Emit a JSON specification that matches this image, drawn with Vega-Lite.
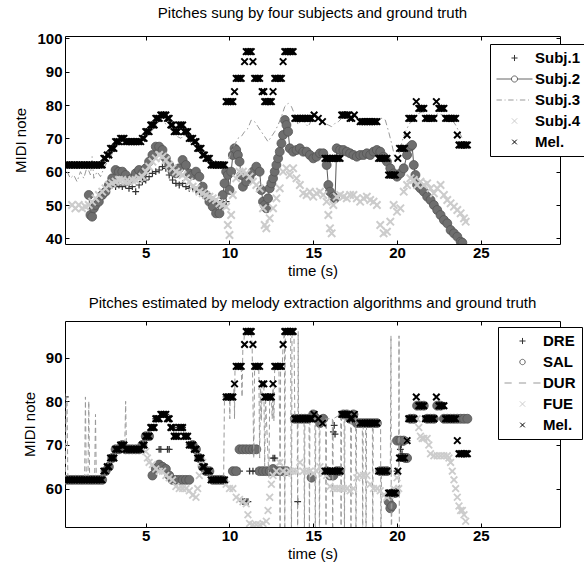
{
"$schema":"https://vega.github.io/schema/vega-lite/v6.json",
"padding":{"left":13,"top":5,"right":1,"bottom":0},
"spacing":16,
"config":{"font":"Liberation Sans","view":{"stroke":"black","strokeWidth":1},
"axis":{"grid":false,"domain":false,"tickColor":"black","tickSize":-4,"labelColor":"black","titleColor":"black","labelFontWeight":"bold","labelFontSize":15,"titleFontWeight":"normal","titleFontSize":15,"labelFlush":false,"labelOverlap":false},
"axisX":{"labelPadding":5,"titlePadding":3},
"axisY":{"labelPadding":7,"titlePadding":8},
"title":{"fontSize":15,"fontWeight":"normal","color":"black","offset":10,"frame":"group","anchor":"middle"}},
"resolve":{"scale":{"color":"independent","shape":"independent"},"legend":{"color":"independent","shape":"independent"}},
"datasets":{
"mel":[
{"s":"Mel.","t":0.2,"v":62},{"s":"Mel.","t":0.3,"v":62},{"s":"Mel.","t":0.4,"v":62},{"s":"Mel.","t":0.5,"v":62},{"s":"Mel.","t":0.6,"v":62},{"s":"Mel.","t":0.7,"v":62},{"s":"Mel.","t":0.8,"v":62},{"s":"Mel.","t":0.9,"v":62},{"s":"Mel.","t":1.0,"v":62},{"s":"Mel.","t":1.1,"v":62},{"s":"Mel.","t":1.2,"v":62},{"s":"Mel.","t":1.3,"v":62},{"s":"Mel.","t":1.4,"v":62},{"s":"Mel.","t":1.5,"v":62},{"s":"Mel.","t":1.6,"v":62},{"s":"Mel.","t":1.7,"v":62},{"s":"Mel.","t":1.8,"v":62},{"s":"Mel.","t":1.9,"v":62},{"s":"Mel.","t":2.0,"v":62},{"s":"Mel.","t":2.1,"v":62},{"s":"Mel.","t":2.2,"v":62},{"s":"Mel.","t":2.3,"v":62},{"s":"Mel.","t":2.4,"v":62},
{"s":"Mel.","t":2.5,"v":64},{"s":"Mel.","t":2.6,"v":64},{"s":"Mel.","t":2.7,"v":65},{"s":"Mel.","t":2.8,"v":65},{"s":"Mel.","t":2.9,"v":67},{"s":"Mel.","t":3.0,"v":67},{"s":"Mel.","t":3.1,"v":67},{"s":"Mel.","t":3.2,"v":69},{"s":"Mel.","t":3.3,"v":69},{"s":"Mel.","t":3.4,"v":69},{"s":"Mel.","t":3.5,"v":70},{"s":"Mel.","t":3.6,"v":70},{"s":"Mel.","t":3.7,"v":70},
{"s":"Mel.","t":3.8,"v":69},{"s":"Mel.","t":3.9,"v":69},{"s":"Mel.","t":4.0,"v":69},{"s":"Mel.","t":4.1,"v":69},{"s":"Mel.","t":4.2,"v":69},{"s":"Mel.","t":4.3,"v":69},{"s":"Mel.","t":4.4,"v":69},{"s":"Mel.","t":4.5,"v":69},{"s":"Mel.","t":4.6,"v":69},{"s":"Mel.","t":4.7,"v":69},
{"s":"Mel.","t":4.8,"v":70},{"s":"Mel.","t":4.9,"v":70},{"s":"Mel.","t":5.0,"v":72},{"s":"Mel.","t":5.1,"v":72},{"s":"Mel.","t":5.2,"v":72},{"s":"Mel.","t":5.3,"v":74},{"s":"Mel.","t":5.4,"v":74},{"s":"Mel.","t":5.5,"v":74},{"s":"Mel.","t":5.6,"v":76},{"s":"Mel.","t":5.7,"v":76},{"s":"Mel.","t":5.8,"v":76},{"s":"Mel.","t":5.9,"v":77},{"s":"Mel.","t":6.0,"v":77},{"s":"Mel.","t":6.1,"v":77},{"s":"Mel.","t":6.2,"v":77},
{"s":"Mel.","t":6.3,"v":76},{"s":"Mel.","t":6.4,"v":76},{"s":"Mel.","t":6.5,"v":74},{"s":"Mel.","t":6.6,"v":74},{"s":"Mel.","t":6.7,"v":72},{"s":"Mel.","t":6.8,"v":72},{"s":"Mel.","t":6.9,"v":72},{"s":"Mel.","t":7.0,"v":74},{"s":"Mel.","t":7.1,"v":74},{"s":"Mel.","t":7.2,"v":74},{"s":"Mel.","t":7.3,"v":72},{"s":"Mel.","t":7.4,"v":72},{"s":"Mel.","t":7.5,"v":72},
{"s":"Mel.","t":7.6,"v":70},{"s":"Mel.","t":7.7,"v":70},{"s":"Mel.","t":7.8,"v":70},{"s":"Mel.","t":7.9,"v":69},{"s":"Mel.","t":8.0,"v":69},{"s":"Mel.","t":8.1,"v":67},{"s":"Mel.","t":8.2,"v":67},{"s":"Mel.","t":8.3,"v":67},{"s":"Mel.","t":8.4,"v":65},{"s":"Mel.","t":8.5,"v":65},{"s":"Mel.","t":8.6,"v":64},{"s":"Mel.","t":8.7,"v":64},{"s":"Mel.","t":8.8,"v":64},
{"s":"Mel.","t":8.9,"v":62},{"s":"Mel.","t":9.0,"v":62},{"s":"Mel.","t":9.1,"v":62},{"s":"Mel.","t":9.2,"v":62},{"s":"Mel.","t":9.3,"v":62},{"s":"Mel.","t":9.4,"v":62},{"s":"Mel.","t":9.5,"v":62},{"s":"Mel.","t":9.6,"v":62},{"s":"Mel.","t":9.7,"v":62},
{"s":"Mel.","t":9.8,"v":81},{"s":"Mel.","t":9.9,"v":81},{"s":"Mel.","t":10.0,"v":81},{"s":"Mel.","t":10.1,"v":81},{"s":"Mel.","t":10.2,"v":81},{"s":"Mel.","t":10.3,"v":84},{"s":"Mel.","t":10.4,"v":88},{"s":"Mel.","t":10.5,"v":88},{"s":"Mel.","t":10.6,"v":88},{"s":"Mel.","t":10.7,"v":88},{"s":"Mel.","t":10.9,"v":93},{"s":"Mel.","t":11.0,"v":96},{"s":"Mel.","t":11.1,"v":96},{"s":"Mel.","t":11.2,"v":96},{"s":"Mel.","t":11.3,"v":96},{"s":"Mel.","t":11.4,"v":93},
{"s":"Mel.","t":11.5,"v":88},{"s":"Mel.","t":11.6,"v":88},{"s":"Mel.","t":11.7,"v":88},{"s":"Mel.","t":11.8,"v":88},{"s":"Mel.","t":11.95,"v":84},{"s":"Mel.","t":12.05,"v":84},{"s":"Mel.","t":12.1,"v":81},{"s":"Mel.","t":12.2,"v":81},{"s":"Mel.","t":12.3,"v":81},{"s":"Mel.","t":12.4,"v":81},{"s":"Mel.","t":12.5,"v":81},{"s":"Mel.","t":12.6,"v":84},
{"s":"Mel.","t":12.7,"v":88},{"s":"Mel.","t":12.8,"v":88},{"s":"Mel.","t":12.9,"v":88},{"s":"Mel.","t":13.0,"v":88},{"s":"Mel.","t":13.1,"v":88},{"s":"Mel.","t":13.2,"v":93},{"s":"Mel.","t":13.3,"v":96},{"s":"Mel.","t":13.4,"v":96},{"s":"Mel.","t":13.5,"v":96},{"s":"Mel.","t":13.6,"v":96},{"s":"Mel.","t":13.7,"v":96},{"s":"Mel.","t":13.8,"v":96},
{"s":"Mel.","t":13.9,"v":76},{"s":"Mel.","t":14.0,"v":76},{"s":"Mel.","t":14.1,"v":76},{"s":"Mel.","t":14.2,"v":76},{"s":"Mel.","t":14.3,"v":76},{"s":"Mel.","t":14.4,"v":76},{"s":"Mel.","t":14.5,"v":76},{"s":"Mel.","t":14.6,"v":76},{"s":"Mel.","t":14.7,"v":76},{"s":"Mel.","t":14.8,"v":76},{"s":"Mel.","t":14.9,"v":76},
{"s":"Mel.","t":15.05,"v":77},{"s":"Mel.","t":15.3,"v":76},{"s":"Mel.","t":15.55,"v":75},
{"s":"Mel.","t":15.7,"v":64},{"s":"Mel.","t":15.8,"v":64},{"s":"Mel.","t":15.9,"v":64},{"s":"Mel.","t":16.0,"v":64},{"s":"Mel.","t":16.1,"v":64},{"s":"Mel.","t":16.2,"v":64},{"s":"Mel.","t":16.3,"v":64},{"s":"Mel.","t":16.4,"v":64},{"s":"Mel.","t":16.5,"v":64},{"s":"Mel.","t":16.6,"v":64},
{"s":"Mel.","t":16.7,"v":77},{"s":"Mel.","t":16.8,"v":77},{"s":"Mel.","t":16.9,"v":77},{"s":"Mel.","t":17.0,"v":77},{"s":"Mel.","t":17.1,"v":77},{"s":"Mel.","t":17.2,"v":76},{"s":"Mel.","t":17.3,"v":76},{"s":"Mel.","t":17.45,"v":77},
{"s":"Mel.","t":17.8,"v":75},{"s":"Mel.","t":17.9,"v":75},{"s":"Mel.","t":18.0,"v":75},{"s":"Mel.","t":18.1,"v":75},{"s":"Mel.","t":18.2,"v":75},{"s":"Mel.","t":18.3,"v":75},{"s":"Mel.","t":18.4,"v":75},{"s":"Mel.","t":18.5,"v":75},{"s":"Mel.","t":18.6,"v":75},{"s":"Mel.","t":18.7,"v":75},{"s":"Mel.","t":18.8,"v":75},
{"s":"Mel.","t":18.9,"v":64},{"s":"Mel.","t":19.0,"v":64},{"s":"Mel.","t":19.1,"v":64},{"s":"Mel.","t":19.2,"v":64},{"s":"Mel.","t":19.3,"v":64},{"s":"Mel.","t":19.4,"v":64},
{"s":"Mel.","t":19.5,"v":59},{"s":"Mel.","t":19.6,"v":59},{"s":"Mel.","t":19.7,"v":59},{"s":"Mel.","t":19.8,"v":59},{"s":"Mel.","t":19.9,"v":59},{"s":"Mel.","t":20.05,"v":64},
{"s":"Mel.","t":20.15,"v":67},{"s":"Mel.","t":20.25,"v":67},{"s":"Mel.","t":20.35,"v":67},{"s":"Mel.","t":20.45,"v":67},{"s":"Mel.","t":20.6,"v":71},
{"s":"Mel.","t":20.7,"v":76},{"s":"Mel.","t":20.8,"v":76},{"s":"Mel.","t":20.9,"v":76},{"s":"Mel.","t":21.0,"v":76},{"s":"Mel.","t":21.15,"v":81},
{"s":"Mel.","t":21.3,"v":79},{"s":"Mel.","t":21.4,"v":79},{"s":"Mel.","t":21.5,"v":79},{"s":"Mel.","t":21.6,"v":79},
{"s":"Mel.","t":21.7,"v":76},{"s":"Mel.","t":21.8,"v":76},{"s":"Mel.","t":21.9,"v":76},{"s":"Mel.","t":22.0,"v":76},{"s":"Mel.","t":22.1,"v":76},{"s":"Mel.","t":22.2,"v":76},{"s":"Mel.","t":22.35,"v":81},
{"s":"Mel.","t":22.5,"v":79},{"s":"Mel.","t":22.6,"v":79},{"s":"Mel.","t":22.7,"v":79},{"s":"Mel.","t":22.8,"v":79},
{"s":"Mel.","t":22.9,"v":76},{"s":"Mel.","t":23.0,"v":76},{"s":"Mel.","t":23.1,"v":76},{"s":"Mel.","t":23.2,"v":76},{"s":"Mel.","t":23.3,"v":76},{"s":"Mel.","t":23.4,"v":76},{"s":"Mel.","t":23.5,"v":76},{"s":"Mel.","t":23.6,"v":71},
{"s":"Mel.","t":23.7,"v":68},{"s":"Mel.","t":23.8,"v":68},{"s":"Mel.","t":23.9,"v":68},{"s":"Mel.","t":24.0,"v":68},{"s":"Mel.","t":24.1,"v":68},{"s":"Mel.","t":24.2,"v":68}
],
"top":[
{"s":"Subj.1","t":1.8,"v":49},{"s":"Subj.1","t":2.0,"v":50},{"s":"Subj.1","t":2.2,"v":51},{"s":"Subj.1","t":2.4,"v":53},{"s":"Subj.1","t":2.6,"v":54.5},{"s":"Subj.1","t":2.8,"v":55.5},{"s":"Subj.1","t":3.0,"v":56},{"s":"Subj.1","t":3.2,"v":55.5},{"s":"Subj.1","t":3.4,"v":56},{"s":"Subj.1","t":3.6,"v":55.5},{"s":"Subj.1","t":3.8,"v":56},{"s":"Subj.1","t":4.0,"v":55},{"s":"Subj.1","t":4.2,"v":55.5},{"s":"Subj.1","t":4.4,"v":54},{"s":"Subj.1","t":4.6,"v":56},{"s":"Subj.1","t":4.8,"v":57},{"s":"Subj.1","t":5.0,"v":57.5},{"s":"Subj.1","t":5.2,"v":58.5},{"s":"Subj.1","t":5.4,"v":59.5},{"s":"Subj.1","t":5.6,"v":60},{"s":"Subj.1","t":5.8,"v":60.5},{"s":"Subj.1","t":6.0,"v":61.5},{"s":"Subj.1","t":6.2,"v":61},{"s":"Subj.1","t":6.4,"v":59},{"s":"Subj.1","t":6.6,"v":57.5},{"s":"Subj.1","t":6.8,"v":56.5},{"s":"Subj.1","t":7.0,"v":56},{"s":"Subj.1","t":7.2,"v":56.5},{"s":"Subj.1","t":7.4,"v":55.5},{"s":"Subj.1","t":7.6,"v":55},{"s":"Subj.1","t":7.8,"v":55},{"s":"Subj.1","t":8.0,"v":54.5},{"s":"Subj.1","t":8.2,"v":54},{"s":"Subj.1","t":8.4,"v":53},{"s":"Subj.1","t":8.6,"v":52.5},{"s":"Subj.1","t":8.8,"v":52},{"s":"Subj.1","t":9.0,"v":51.5},{"s":"Subj.1","t":9.2,"v":51},{"s":"Subj.1","t":9.4,"v":50.5},{"s":"Subj.1","t":9.6,"v":50.5},{"s":"Subj.1","t":9.8,"v":51},
{"s":"Subj.2","t":1.6,"v":53},{"s":"Subj.2","t":1.7,"v":47},{"s":"Subj.2","t":1.8,"v":46.5},{"s":"Subj.2","t":1.9,"v":49},{"s":"Subj.2","t":2.0,"v":50},{"s":"Subj.2","t":2.2,"v":51},{"s":"Subj.2","t":2.4,"v":53},{"s":"Subj.2","t":2.6,"v":54},{"s":"Subj.2","t":2.8,"v":56},{"s":"Subj.2","t":3.0,"v":58},{"s":"Subj.2","t":3.2,"v":60.5},{"s":"Subj.2","t":3.4,"v":60},{"s":"Subj.2","t":3.6,"v":60},{"s":"Subj.2","t":3.8,"v":59},{"s":"Subj.2","t":4.0,"v":57.5},{"s":"Subj.2","t":4.2,"v":58},{"s":"Subj.2","t":4.4,"v":59.5},{"s":"Subj.2","t":4.6,"v":60.5},{"s":"Subj.2","t":4.8,"v":59.5},{"s":"Subj.2","t":5.0,"v":61},{"s":"Subj.2","t":5.2,"v":63},{"s":"Subj.2","t":5.4,"v":65},{"s":"Subj.2","t":5.6,"v":67.5},{"s":"Subj.2","t":5.8,"v":67.5},{"s":"Subj.2","t":6.0,"v":66.5},{"s":"Subj.2","t":6.2,"v":64},{"s":"Subj.2","t":6.4,"v":62},{"s":"Subj.2","t":6.6,"v":60},{"s":"Subj.2","t":6.8,"v":59.5},{"s":"Subj.2","t":7.0,"v":61},{"s":"Subj.2","t":7.2,"v":63.5},{"s":"Subj.2","t":7.4,"v":62},{"s":"Subj.2","t":7.6,"v":59.5},{"s":"Subj.2","t":7.8,"v":59},{"s":"Subj.2","t":8.0,"v":60},{"s":"Subj.2","t":8.2,"v":58.5},{"s":"Subj.2","t":8.4,"v":55.5},{"s":"Subj.2","t":8.6,"v":53},{"s":"Subj.2","t":8.8,"v":51},{"s":"Subj.2","t":9.0,"v":49.5},{"s":"Subj.2","t":9.2,"v":47.5},{"s":"Subj.2","t":9.4,"v":47.5},{"s":"Subj.2","t":9.5,"v":50},{"s":"Subj.2","t":9.6,"v":53},{"s":"Subj.2","t":9.7,"v":56.5},{"s":"Subj.2","t":9.8,"v":60},{"s":"Subj.2","t":9.9,"v":59},{"s":"Subj.2","t":10.0,"v":54.5},{"s":"Subj.2","t":10.1,"v":60},{"s":"Subj.2","t":10.2,"v":65},{"s":"Subj.2","t":10.3,"v":67},{"s":"Subj.2","t":10.4,"v":66.5},{"s":"Subj.2","t":10.5,"v":65},{"s":"Subj.2","t":10.6,"v":63},{"s":"Subj.2","t":10.7,"v":59},{"s":"Subj.2","t":10.8,"v":55.5},{"s":"Subj.2","t":11.0,"v":57},{"s":"Subj.2","t":11.2,"v":58.5},{"s":"Subj.2","t":11.4,"v":60},{"s":"Subj.2","t":11.6,"v":61.5},{"s":"Subj.2","t":11.8,"v":60},{"s":"Subj.2","t":11.9,"v":54.5},{"s":"Subj.2","t":12.0,"v":51},{"s":"Subj.2","t":12.1,"v":50},{"s":"Subj.2","t":12.2,"v":49},{"s":"Subj.2","t":12.3,"v":52},{"s":"Subj.2","t":12.4,"v":55},{"s":"Subj.2","t":12.5,"v":56.5},{"s":"Subj.2","t":12.6,"v":58},{"s":"Subj.2","t":12.7,"v":60},{"s":"Subj.2","t":12.8,"v":62},{"s":"Subj.2","t":12.9,"v":64},{"s":"Subj.2","t":13.0,"v":66},{"s":"Subj.2","t":13.1,"v":68.5},{"s":"Subj.2","t":13.2,"v":71},{"s":"Subj.2","t":13.3,"v":75.5},{"s":"Subj.2","t":13.4,"v":74},{"s":"Subj.2","t":13.5,"v":72},{"s":"Subj.2","t":13.6,"v":67},{"s":"Subj.2","t":13.8,"v":66},{"s":"Subj.2","t":14.0,"v":66.5},{"s":"Subj.2","t":14.2,"v":67},{"s":"Subj.2","t":14.4,"v":66},{"s":"Subj.2","t":14.6,"v":66},{"s":"Subj.2","t":14.8,"v":65},{"s":"Subj.2","t":15.0,"v":64},{"s":"Subj.2","t":15.2,"v":64.5},{"s":"Subj.2","t":15.4,"v":65.5},{"s":"Subj.2","t":15.6,"v":65.5},{"s":"Subj.2","t":15.8,"v":62},{"s":"Subj.2","t":15.9,"v":56},{"s":"Subj.2","t":16.0,"v":54},{"s":"Subj.2","t":16.2,"v":52.5},{"s":"Subj.2","t":16.3,"v":52},{"s":"Subj.2","t":16.4,"v":67},{"s":"Subj.2","t":16.6,"v":66.5},{"s":"Subj.2","t":16.8,"v":66.5},{"s":"Subj.2","t":17.0,"v":66},{"s":"Subj.2","t":17.2,"v":65.5},{"s":"Subj.2","t":17.4,"v":65},{"s":"Subj.2","t":17.6,"v":64.5},{"s":"Subj.2","t":17.8,"v":65},{"s":"Subj.2","t":18.0,"v":65},{"s":"Subj.2","t":18.2,"v":65.5},{"s":"Subj.2","t":18.4,"v":65},{"s":"Subj.2","t":18.6,"v":66},{"s":"Subj.2","t":18.8,"v":66.5},{"s":"Subj.2","t":19.0,"v":66},{"s":"Subj.2","t":19.2,"v":64.5},{"s":"Subj.2","t":19.4,"v":63},{"s":"Subj.2","t":19.6,"v":61},{"s":"Subj.2","t":19.8,"v":59.5},{"s":"Subj.2","t":20.0,"v":58.5},{"s":"Subj.2","t":20.2,"v":59.5},{"s":"Subj.2","t":20.4,"v":61},{"s":"Subj.2","t":20.6,"v":65},{"s":"Subj.2","t":20.8,"v":67.5},{"s":"Subj.2","t":20.9,"v":68},{"s":"Subj.2","t":21.0,"v":62},{"s":"Subj.2","t":21.1,"v":59},{"s":"Subj.2","t":21.2,"v":56},{"s":"Subj.2","t":21.4,"v":55},{"s":"Subj.2","t":21.6,"v":54},{"s":"Subj.2","t":21.8,"v":52.5},{"s":"Subj.2","t":22.0,"v":51.5},{"s":"Subj.2","t":22.2,"v":50},{"s":"Subj.2","t":22.4,"v":48.5},{"s":"Subj.2","t":22.6,"v":47},{"s":"Subj.2","t":22.8,"v":45.5},{"s":"Subj.2","t":23.0,"v":44.5},{"s":"Subj.2","t":23.2,"v":42.5},{"s":"Subj.2","t":23.4,"v":41.5},{"s":"Subj.2","t":23.6,"v":40.5},{"s":"Subj.2","t":23.8,"v":39},{"s":"Subj.2","t":23.9,"v":38.7},
{"s":"Subj.3","t":0.3,"v":60},{"s":"Subj.3","t":0.5,"v":58},{"s":"Subj.3","t":0.7,"v":59},{"s":"Subj.3","t":0.9,"v":57},{"s":"Subj.3","t":1.1,"v":60},{"s":"Subj.3","t":1.3,"v":58},{"s":"Subj.3","t":1.5,"v":61.5},{"s":"Subj.3","t":1.7,"v":59},{"s":"Subj.3","t":1.8,"v":64.5},{"s":"Subj.3","t":1.9,"v":58},{"s":"Subj.3","t":2.1,"v":60},{"s":"Subj.3","t":2.3,"v":58.5},{"s":"Subj.3","t":2.5,"v":61},{"s":"Subj.3","t":2.7,"v":63},{"s":"Subj.3","t":2.9,"v":64},{"s":"Subj.3","t":3.1,"v":67},{"s":"Subj.3","t":3.3,"v":68.5},{"s":"Subj.3","t":3.5,"v":69.5},{"s":"Subj.3","t":3.7,"v":69},{"s":"Subj.3","t":3.9,"v":68.5},{"s":"Subj.3","t":4.1,"v":69},{"s":"Subj.3","t":4.3,"v":68.5},{"s":"Subj.3","t":4.5,"v":69},{"s":"Subj.3","t":4.7,"v":69.5},{"s":"Subj.3","t":4.9,"v":70},{"s":"Subj.3","t":5.1,"v":71},{"s":"Subj.3","t":5.3,"v":72},{"s":"Subj.3","t":5.5,"v":73},{"s":"Subj.3","t":5.7,"v":74.5},{"s":"Subj.3","t":5.9,"v":75.5},{"s":"Subj.3","t":6.1,"v":75},{"s":"Subj.3","t":6.3,"v":73.5},{"s":"Subj.3","t":6.5,"v":72.5},{"s":"Subj.3","t":6.7,"v":71.5},{"s":"Subj.3","t":6.9,"v":70.5},{"s":"Subj.3","t":7.1,"v":70},{"s":"Subj.3","t":7.3,"v":71},{"s":"Subj.3","t":7.5,"v":70},{"s":"Subj.3","t":7.7,"v":68.5},{"s":"Subj.3","t":7.9,"v":68},{"s":"Subj.3","t":8.1,"v":67.5},{"s":"Subj.3","t":8.3,"v":67},{"s":"Subj.3","t":8.5,"v":66},{"s":"Subj.3","t":8.7,"v":65},{"s":"Subj.3","t":8.9,"v":64},{"s":"Subj.3","t":9.1,"v":63.5},{"s":"Subj.3","t":9.3,"v":63},{"s":"Subj.3","t":9.5,"v":62.5},{"s":"Subj.3","t":9.7,"v":62},{"s":"Subj.3","t":9.9,"v":63},{"s":"Subj.3","t":10.1,"v":66},{"s":"Subj.3","t":10.3,"v":68},{"s":"Subj.3","t":10.5,"v":70},{"s":"Subj.3","t":10.7,"v":70.5},{"s":"Subj.3","t":10.9,"v":72},{"s":"Subj.3","t":11.1,"v":73},{"s":"Subj.3","t":11.3,"v":75.5},{"s":"Subj.3","t":11.5,"v":75},{"s":"Subj.3","t":11.7,"v":73.5},{"s":"Subj.3","t":11.9,"v":72},{"s":"Subj.3","t":12.1,"v":70.5},{"s":"Subj.3","t":12.3,"v":69},{"s":"Subj.3","t":12.5,"v":70.5},{"s":"Subj.3","t":12.7,"v":72},{"s":"Subj.3","t":12.9,"v":74},{"s":"Subj.3","t":13.1,"v":76.5},{"s":"Subj.3","t":13.3,"v":79.5},{"s":"Subj.3","t":13.5,"v":80.5},{"s":"Subj.3","t":13.7,"v":79.5},{"s":"Subj.3","t":13.9,"v":77},{"s":"Subj.3","t":14.1,"v":74},{"s":"Subj.3","t":14.3,"v":76},{"s":"Subj.3","t":14.5,"v":74.5},{"s":"Subj.3","t":14.7,"v":73.5},{"s":"Subj.3","t":14.9,"v":75.5},{"s":"Subj.3","t":15.1,"v":77},{"s":"Subj.3","t":15.3,"v":76.5},{"s":"Subj.3","t":15.5,"v":75},{"s":"Subj.3","t":15.7,"v":74.5},{"s":"Subj.3","t":15.9,"v":74},{"s":"Subj.3","t":16.1,"v":73.5},{"s":"Subj.3","t":16.3,"v":74.5},{"s":"Subj.3","t":16.5,"v":75},{"s":"Subj.3","t":16.7,"v":76},{"s":"Subj.3","t":16.9,"v":76.5},{"s":"Subj.3","t":17.1,"v":76},{"s":"Subj.3","t":17.3,"v":75.5},{"s":"Subj.3","t":17.5,"v":75},{"s":"Subj.3","t":17.7,"v":74.5},{"s":"Subj.3","t":17.9,"v":74},{"s":"Subj.3","t":18.1,"v":74.5},{"s":"Subj.3","t":18.3,"v":75},{"s":"Subj.3","t":18.5,"v":74.5},{"s":"Subj.3","t":18.7,"v":75.5},{"s":"Subj.3","t":18.9,"v":76},{"s":"Subj.3","t":19.1,"v":76},{"s":"Subj.3","t":19.3,"v":75.5},{"s":"Subj.3","t":19.5,"v":72},{"s":"Subj.3","t":19.7,"v":68},{"s":"Subj.3","t":19.9,"v":63.5},{"s":"Subj.3","t":20.1,"v":65},{"s":"Subj.3","t":20.3,"v":69},{"s":"Subj.3","t":20.5,"v":72},{"s":"Subj.3","t":20.7,"v":74},{"s":"Subj.3","t":20.9,"v":75.5},{"s":"Subj.3","t":21.1,"v":76.5},{"s":"Subj.3","t":21.3,"v":77.5},{"s":"Subj.3","t":21.5,"v":78},{"s":"Subj.3","t":21.7,"v":77.5},{"s":"Subj.3","t":21.9,"v":76.5},{"s":"Subj.3","t":22.1,"v":76},{"s":"Subj.3","t":22.3,"v":77},{"s":"Subj.3","t":22.5,"v":77.5},{"s":"Subj.3","t":22.7,"v":77},{"s":"Subj.3","t":22.9,"v":76.5},{"s":"Subj.3","t":23.1,"v":76},{"s":"Subj.3","t":23.3,"v":75.5},{"s":"Subj.3","t":23.5,"v":74},{"s":"Subj.3","t":23.7,"v":72},{"s":"Subj.3","t":23.9,"v":70},
{"s":"Subj.4","t":0.6,"v":50},{"s":"Subj.4","t":0.8,"v":49},{"s":"Subj.4","t":1.0,"v":50},{"s":"Subj.4","t":1.2,"v":49},{"s":"Subj.4","t":1.4,"v":49.5},{"s":"Subj.4","t":1.6,"v":50},{"s":"Subj.4","t":1.8,"v":51},{"s":"Subj.4","t":2.0,"v":52},{"s":"Subj.4","t":2.2,"v":53},{"s":"Subj.4","t":2.4,"v":54},{"s":"Subj.4","t":2.6,"v":55},{"s":"Subj.4","t":2.8,"v":56},{"s":"Subj.4","t":3.0,"v":56.5},{"s":"Subj.4","t":3.2,"v":57},{"s":"Subj.4","t":3.4,"v":57.5},{"s":"Subj.4","t":3.6,"v":57.5},{"s":"Subj.4","t":3.8,"v":57},{"s":"Subj.4","t":4.0,"v":57},{"s":"Subj.4","t":4.2,"v":57.5},{"s":"Subj.4","t":4.4,"v":57.5},{"s":"Subj.4","t":4.6,"v":58},{"s":"Subj.4","t":4.8,"v":58.5},{"s":"Subj.4","t":5.0,"v":60},{"s":"Subj.4","t":5.2,"v":61.5},{"s":"Subj.4","t":5.4,"v":63},{"s":"Subj.4","t":5.6,"v":64},{"s":"Subj.4","t":5.8,"v":65},{"s":"Subj.4","t":6.0,"v":64.5},{"s":"Subj.4","t":6.2,"v":63.5},{"s":"Subj.4","t":6.4,"v":62},{"s":"Subj.4","t":6.6,"v":61},{"s":"Subj.4","t":6.8,"v":60},{"s":"Subj.4","t":7.0,"v":59.5},{"s":"Subj.4","t":7.2,"v":59},{"s":"Subj.4","t":7.4,"v":58},{"s":"Subj.4","t":7.6,"v":57},{"s":"Subj.4","t":7.8,"v":55.5},{"s":"Subj.4","t":8.0,"v":55},{"s":"Subj.4","t":8.2,"v":54},{"s":"Subj.4","t":8.4,"v":53.5},{"s":"Subj.4","t":8.6,"v":53},{"s":"Subj.4","t":8.8,"v":52.5},{"s":"Subj.4","t":9.0,"v":52},{"s":"Subj.4","t":9.2,"v":51.5},{"s":"Subj.4","t":9.4,"v":50.5},{"s":"Subj.4","t":9.6,"v":50},{"s":"Subj.4","t":9.8,"v":49.5},{"s":"Subj.4","t":9.9,"v":44},{"s":"Subj.4","t":10.0,"v":41},{"s":"Subj.4","t":10.1,"v":47},{"s":"Subj.4","t":10.2,"v":53},{"s":"Subj.4","t":10.4,"v":58},{"s":"Subj.4","t":10.6,"v":60},{"s":"Subj.4","t":10.8,"v":60},{"s":"Subj.4","t":11.0,"v":59.5},{"s":"Subj.4","t":11.2,"v":58.5},{"s":"Subj.4","t":11.4,"v":57},{"s":"Subj.4","t":11.6,"v":56},{"s":"Subj.4","t":11.8,"v":55},{"s":"Subj.4","t":12.0,"v":49},{"s":"Subj.4","t":12.1,"v":44},{"s":"Subj.4","t":12.2,"v":43},{"s":"Subj.4","t":12.4,"v":46},{"s":"Subj.4","t":12.6,"v":49},{"s":"Subj.4","t":12.8,"v":52},{"s":"Subj.4","t":13.0,"v":55},{"s":"Subj.4","t":13.2,"v":60},{"s":"Subj.4","t":13.4,"v":61},{"s":"Subj.4","t":13.6,"v":59},{"s":"Subj.4","t":13.8,"v":61},{"s":"Subj.4","t":14.0,"v":58},{"s":"Subj.4","t":14.2,"v":56},{"s":"Subj.4","t":14.4,"v":53.5},{"s":"Subj.4","t":14.6,"v":53},{"s":"Subj.4","t":14.8,"v":54},{"s":"Subj.4","t":15.0,"v":52.5},{"s":"Subj.4","t":15.2,"v":53.5},{"s":"Subj.4","t":15.4,"v":54},{"s":"Subj.4","t":15.6,"v":53},{"s":"Subj.4","t":15.8,"v":51},{"s":"Subj.4","t":15.9,"v":47},{"s":"Subj.4","t":16.0,"v":43},{"s":"Subj.4","t":16.1,"v":41.5},{"s":"Subj.4","t":16.2,"v":50},{"s":"Subj.4","t":16.4,"v":52.5},{"s":"Subj.4","t":16.6,"v":53},{"s":"Subj.4","t":16.8,"v":52.5},{"s":"Subj.4","t":17.0,"v":52},{"s":"Subj.4","t":17.2,"v":53},{"s":"Subj.4","t":17.4,"v":53},{"s":"Subj.4","t":17.6,"v":52},{"s":"Subj.4","t":17.8,"v":51},{"s":"Subj.4","t":18.0,"v":52},{"s":"Subj.4","t":18.2,"v":52.5},{"s":"Subj.4","t":18.4,"v":51.5},{"s":"Subj.4","t":18.6,"v":51},{"s":"Subj.4","t":18.8,"v":50},{"s":"Subj.4","t":19.0,"v":44},{"s":"Subj.4","t":19.2,"v":41.5},{"s":"Subj.4","t":19.4,"v":42},{"s":"Subj.4","t":19.6,"v":45},{"s":"Subj.4","t":19.8,"v":50},{"s":"Subj.4","t":20.0,"v":48},{"s":"Subj.4","t":20.2,"v":49},{"s":"Subj.4","t":20.4,"v":54},{"s":"Subj.4","t":20.6,"v":56},{"s":"Subj.4","t":20.8,"v":58},{"s":"Subj.4","t":21.0,"v":57.5},{"s":"Subj.4","t":21.2,"v":56},{"s":"Subj.4","t":21.4,"v":57},{"s":"Subj.4","t":21.6,"v":56},{"s":"Subj.4","t":21.8,"v":56.5},{"s":"Subj.4","t":22.0,"v":55},{"s":"Subj.4","t":22.2,"v":53.5},{"s":"Subj.4","t":22.4,"v":55},{"s":"Subj.4","t":22.6,"v":56},{"s":"Subj.4","t":22.8,"v":53},{"s":"Subj.4","t":23.0,"v":51.5},{"s":"Subj.4","t":23.2,"v":50.5},{"s":"Subj.4","t":23.4,"v":49.5},{"s":"Subj.4","t":23.6,"v":48.5},{"s":"Subj.4","t":23.8,"v":47.5},{"s":"Subj.4","t":24.0,"v":46},{"s":"Subj.4","t":24.1,"v":45}
],
"bot":[
{"s":"DRE","t":0.2,"v":81},{"s":"DRE","t":0.4,"v":62},{"s":"DRE","t":0.6,"v":62},{"s":"DRE","t":0.8,"v":62},{"s":"DRE","t":1.0,"v":62},{"s":"DRE","t":1.2,"v":62},{"s":"DRE","t":1.4,"v":62},{"s":"DRE","t":1.6,"v":62},{"s":"DRE","t":1.8,"v":62},{"s":"DRE","t":2.0,"v":62},{"s":"DRE","t":2.2,"v":62},{"s":"DRE","t":2.4,"v":62},{"s":"DRE","t":2.6,"v":64},{"s":"DRE","t":2.8,"v":65},{"s":"DRE","t":3.0,"v":67},{"s":"DRE","t":3.2,"v":69},{"s":"DRE","t":3.4,"v":69},{"s":"DRE","t":3.6,"v":70},{"s":"DRE","t":3.8,"v":69},{"s":"DRE","t":4.0,"v":69},{"s":"DRE","t":4.2,"v":69},{"s":"DRE","t":4.4,"v":69},{"s":"DRE","t":4.6,"v":69},{"s":"DRE","t":4.8,"v":70},{"s":"DRE","t":5.0,"v":72},{"s":"DRE","t":5.2,"v":72},{"s":"DRE","t":5.4,"v":74},{"s":"DRE","t":5.6,"v":76},{"s":"DRE","t":5.8,"v":69},{"s":"DRE","t":5.9,"v":69},{"s":"DRE","t":6.0,"v":77},{"s":"DRE","t":6.2,"v":77},{"s":"DRE","t":6.3,"v":69},{"s":"DRE","t":6.4,"v":69},{"s":"DRE","t":6.6,"v":74},{"s":"DRE","t":6.8,"v":72},{"s":"DRE","t":7.0,"v":74},{"s":"DRE","t":7.2,"v":74},{"s":"DRE","t":7.4,"v":72},{"s":"DRE","t":7.6,"v":70},{"s":"DRE","t":7.8,"v":70},{"s":"DRE","t":8.0,"v":69},{"s":"DRE","t":8.2,"v":67},{"s":"DRE","t":8.4,"v":65},{"s":"DRE","t":8.6,"v":64},{"s":"DRE","t":8.8,"v":64},{"s":"DRE","t":9.0,"v":62},{"s":"DRE","t":9.2,"v":62},{"s":"DRE","t":9.4,"v":62},{"s":"DRE","t":9.6,"v":62},{"s":"DRE","t":9.8,"v":81},{"s":"DRE","t":10.0,"v":81},{"s":"DRE","t":10.2,"v":64},{"s":"DRE","t":10.4,"v":64},{"s":"DRE","t":10.6,"v":64},{"s":"DRE","t":10.8,"v":57},{"s":"DRE","t":10.9,"v":57},{"s":"DRE","t":11.0,"v":57},{"s":"DRE","t":11.1,"v":57},{"s":"DRE","t":11.2,"v":64},{"s":"DRE","t":11.4,"v":64},{"s":"DRE","t":11.6,"v":64},{"s":"DRE","t":11.8,"v":64},{"s":"DRE","t":12.0,"v":64},{"s":"DRE","t":12.2,"v":64},{"s":"DRE","t":12.4,"v":64},{"s":"DRE","t":12.6,"v":67},{"s":"DRE","t":12.7,"v":67},{"s":"DRE","t":12.9,"v":64},{"s":"DRE","t":13.1,"v":64},{"s":"DRE","t":13.3,"v":64},{"s":"DRE","t":13.5,"v":64},{"s":"DRE","t":13.7,"v":64},{"s":"DRE","t":13.9,"v":76},{"s":"DRE","t":14.07,"v":57},{"s":"DRE","t":14.2,"v":76},{"s":"DRE","t":14.4,"v":76},{"s":"DRE","t":14.6,"v":76},{"s":"DRE","t":14.8,"v":76},{"s":"DRE","t":15.0,"v":77},{"s":"DRE","t":15.2,"v":76},{"s":"DRE","t":15.4,"v":75},{"s":"DRE","t":15.6,"v":76},{"s":"DRE","t":15.8,"v":64},{"s":"DRE","t":16.0,"v":64},{"s":"DRE","t":16.2,"v":73},{"s":"DRE","t":16.25,"v":74.5},{"s":"DRE","t":16.3,"v":72.5},{"s":"DRE","t":16.4,"v":64},{"s":"DRE","t":16.6,"v":64},{"s":"DRE","t":16.8,"v":77},{"s":"DRE","t":17.0,"v":77},{"s":"DRE","t":17.2,"v":76},{"s":"DRE","t":17.4,"v":77},{"s":"DRE","t":17.6,"v":75},{"s":"DRE","t":17.8,"v":75},{"s":"DRE","t":18.0,"v":75},{"s":"DRE","t":18.2,"v":75},{"s":"DRE","t":18.4,"v":75},{"s":"DRE","t":18.6,"v":75},{"s":"DRE","t":18.8,"v":75},{"s":"DRE","t":19.0,"v":64},{"s":"DRE","t":19.2,"v":64},{"s":"DRE","t":19.4,"v":64},{"s":"DRE","t":19.6,"v":59},{"s":"DRE","t":19.8,"v":59},{"s":"DRE","t":20.0,"v":64},{"s":"DRE","t":20.2,"v":69},{"s":"DRE","t":20.25,"v":70},{"s":"DRE","t":20.3,"v":68},{"s":"DRE","t":20.4,"v":71},{"s":"DRE","t":20.6,"v":71},{"s":"DRE","t":20.8,"v":76},{"s":"DRE","t":21.0,"v":76},{"s":"DRE","t":21.2,"v":79},{"s":"DRE","t":21.4,"v":79},{"s":"DRE","t":21.6,"v":79},{"s":"DRE","t":21.8,"v":76},{"s":"DRE","t":22.0,"v":76},{"s":"DRE","t":22.2,"v":76},{"s":"DRE","t":22.4,"v":79},{"s":"DRE","t":22.6,"v":79},{"s":"DRE","t":22.8,"v":76},{"s":"DRE","t":23.0,"v":76},{"s":"DRE","t":23.2,"v":76},{"s":"DRE","t":23.4,"v":76},{"s":"DRE","t":23.6,"v":76},{"s":"DRE","t":23.8,"v":76},{"s":"DRE","t":24.0,"v":76},{"s":"DRE","t":24.2,"v":76},
{"s":"SAL","t":0.2,"v":62},{"s":"SAL","t":0.4,"v":62},{"s":"SAL","t":0.6,"v":62},{"s":"SAL","t":0.8,"v":62},{"s":"SAL","t":1.0,"v":62},{"s":"SAL","t":1.2,"v":62},{"s":"SAL","t":1.4,"v":62},{"s":"SAL","t":1.6,"v":62},{"s":"SAL","t":1.8,"v":62},{"s":"SAL","t":2.0,"v":62},{"s":"SAL","t":2.2,"v":62},{"s":"SAL","t":2.4,"v":62},{"s":"SAL","t":2.6,"v":64},{"s":"SAL","t":2.8,"v":65},{"s":"SAL","t":3.0,"v":67},{"s":"SAL","t":3.2,"v":69},{"s":"SAL","t":3.4,"v":69},{"s":"SAL","t":3.6,"v":70},{"s":"SAL","t":3.8,"v":69},{"s":"SAL","t":4.0,"v":69},{"s":"SAL","t":4.2,"v":69},{"s":"SAL","t":4.4,"v":69},{"s":"SAL","t":4.6,"v":69},{"s":"SAL","t":4.8,"v":70},{"s":"SAL","t":5.0,"v":72},{"s":"SAL","t":5.2,"v":72},{"s":"SAL","t":5.4,"v":63},{"s":"SAL","t":5.6,"v":64.5},{"s":"SAL","t":5.8,"v":65.5},{"s":"SAL","t":6.0,"v":65},{"s":"SAL","t":6.2,"v":64.5},{"s":"SAL","t":6.4,"v":63},{"s":"SAL","t":6.6,"v":62},{"s":"SAL","t":6.8,"v":62},{"s":"SAL","t":7.0,"v":62},{"s":"SAL","t":7.2,"v":62},{"s":"SAL","t":7.4,"v":62},{"s":"SAL","t":7.6,"v":62},{"s":"SAL","t":7.8,"v":70},{"s":"SAL","t":8.0,"v":69},{"s":"SAL","t":8.2,"v":67},{"s":"SAL","t":8.4,"v":65},{"s":"SAL","t":8.6,"v":64},{"s":"SAL","t":8.8,"v":64},{"s":"SAL","t":9.0,"v":62},{"s":"SAL","t":9.2,"v":62},{"s":"SAL","t":9.4,"v":62},{"s":"SAL","t":9.6,"v":62},{"s":"SAL","t":10.2,"v":64},{"s":"SAL","t":10.4,"v":64},{"s":"SAL","t":10.6,"v":69},{"s":"SAL","t":10.8,"v":69},{"s":"SAL","t":11.0,"v":69},{"s":"SAL","t":11.2,"v":69},{"s":"SAL","t":11.4,"v":69},{"s":"SAL","t":11.6,"v":69},{"s":"SAL","t":11.8,"v":64},{"s":"SAL","t":12.0,"v":64},{"s":"SAL","t":12.2,"v":64},{"s":"SAL","t":12.4,"v":64},{"s":"SAL","t":12.6,"v":64.5},{"s":"SAL","t":12.8,"v":64},{"s":"SAL","t":13.0,"v":64},{"s":"SAL","t":13.2,"v":64},{"s":"SAL","t":13.4,"v":64},{"s":"SAL","t":13.9,"v":76},{"s":"SAL","t":14.1,"v":76},{"s":"SAL","t":14.3,"v":76},{"s":"SAL","t":14.5,"v":76},{"s":"SAL","t":14.7,"v":76},{"s":"SAL","t":14.9,"v":62.5},{"s":"SAL","t":15.0,"v":77},{"s":"SAL","t":15.2,"v":76},{"s":"SAL","t":15.4,"v":75},{"s":"SAL","t":15.6,"v":76},{"s":"SAL","t":15.8,"v":64},{"s":"SAL","t":16.0,"v":63},{"s":"SAL","t":16.2,"v":63},{"s":"SAL","t":16.4,"v":64},{"s":"SAL","t":16.6,"v":64},{"s":"SAL","t":16.8,"v":77},{"s":"SAL","t":17.0,"v":77},{"s":"SAL","t":17.2,"v":76},{"s":"SAL","t":17.4,"v":77},{"s":"SAL","t":17.6,"v":75},{"s":"SAL","t":17.8,"v":75},{"s":"SAL","t":18.0,"v":75},{"s":"SAL","t":18.2,"v":75},{"s":"SAL","t":18.4,"v":75},{"s":"SAL","t":18.6,"v":75},{"s":"SAL","t":18.8,"v":75},{"s":"SAL","t":19.0,"v":64},{"s":"SAL","t":19.2,"v":64},{"s":"SAL","t":19.4,"v":64},{"s":"SAL","t":19.5,"v":57},{"s":"SAL","t":19.6,"v":55.5},{"s":"SAL","t":19.7,"v":56},{"s":"SAL","t":19.8,"v":59},{"s":"SAL","t":19.9,"v":59},{"s":"SAL","t":20.0,"v":71},{"s":"SAL","t":20.2,"v":71},{"s":"SAL","t":20.4,"v":71},{"s":"SAL","t":20.5,"v":67},{"s":"SAL","t":20.6,"v":67},{"s":"SAL","t":20.8,"v":76},{"s":"SAL","t":21.0,"v":76},{"s":"SAL","t":21.2,"v":79},{"s":"SAL","t":21.4,"v":79},{"s":"SAL","t":21.6,"v":79},{"s":"SAL","t":21.8,"v":76},{"s":"SAL","t":22.0,"v":76},{"s":"SAL","t":22.2,"v":76},{"s":"SAL","t":22.4,"v":79},{"s":"SAL","t":22.6,"v":79},{"s":"SAL","t":22.8,"v":76},{"s":"SAL","t":23.0,"v":76},{"s":"SAL","t":23.2,"v":76},{"s":"SAL","t":23.4,"v":76},{"s":"SAL","t":23.6,"v":76},{"s":"SAL","t":23.8,"v":76},{"s":"SAL","t":24.0,"v":76},{"s":"SAL","t":24.2,"v":76},
{"s":"DUR","t":0.2,"v":62},{"s":"DUR","t":0.25,"v":81},{"s":"DUR","t":0.3,"v":81},{"s":"DUR","t":0.35,"v":62},{"s":"DUR","t":1.35,"v":62},{"s":"DUR","t":1.4,"v":81},{"s":"DUR","t":1.45,"v":62},{"s":"DUR","t":1.55,"v":62},{"s":"DUR","t":1.6,"v":80},{"s":"DUR","t":1.65,"v":62},{"s":"DUR","t":1.95,"v":62},{"s":"DUR","t":2.0,"v":77},{"s":"DUR","t":2.05,"v":62},{"s":"DUR","t":2.4,"v":62},{"s":"DUR","t":2.45,"v":64},{"s":"DUR","t":2.65,"v":64},{"s":"DUR","t":2.7,"v":65},{"s":"DUR","t":2.85,"v":65},{"s":"DUR","t":2.9,"v":67},{"s":"DUR","t":3.15,"v":67},{"s":"DUR","t":3.2,"v":69},{"s":"DUR","t":3.45,"v":69},{"s":"DUR","t":3.5,"v":70},{"s":"DUR","t":3.75,"v":70},{"s":"DUR","t":3.8,"v":80},{"s":"DUR","t":3.85,"v":69},{"s":"DUR","t":4.75,"v":69},{"s":"DUR","t":4.8,"v":70},{"s":"DUR","t":4.95,"v":70},{"s":"DUR","t":5.0,"v":72},{"s":"DUR","t":5.25,"v":72},{"s":"DUR","t":5.3,"v":74},{"s":"DUR","t":5.55,"v":74},{"s":"DUR","t":5.6,"v":76},{"s":"DUR","t":5.85,"v":76},{"s":"DUR","t":5.9,"v":77},{"s":"DUR","t":6.25,"v":77},{"s":"DUR","t":6.3,"v":76},{"s":"DUR","t":6.45,"v":76},{"s":"DUR","t":6.5,"v":74},{"s":"DUR","t":6.65,"v":74},{"s":"DUR","t":6.7,"v":72},{"s":"DUR","t":6.95,"v":72},{"s":"DUR","t":7.0,"v":74},{"s":"DUR","t":7.25,"v":74},{"s":"DUR","t":7.3,"v":72},{"s":"DUR","t":7.55,"v":72},{"s":"DUR","t":7.6,"v":70},{"s":"DUR","t":7.85,"v":70},{"s":"DUR","t":7.9,"v":69},{"s":"DUR","t":8.05,"v":69},{"s":"DUR","t":8.1,"v":67},{"s":"DUR","t":8.35,"v":67},{"s":"DUR","t":8.4,"v":65},{"s":"DUR","t":8.55,"v":65},{"s":"DUR","t":8.6,"v":64},{"s":"DUR","t":8.85,"v":64},{"s":"DUR","t":8.9,"v":62},{"s":"DUR","t":9.65,"v":62},{"s":"DUR","t":9.7,"v":81},{"s":"DUR","t":10.0,"v":81},{"s":"DUR","t":10.02,"v":76},{"s":"DUR","t":10.04,"v":81},{"s":"DUR","t":10.25,"v":81},{"s":"DUR","t":10.28,"v":84},{"s":"DUR","t":10.3,"v":76},{"s":"DUR","t":10.33,"v":88},{"s":"DUR","t":10.7,"v":88},{"s":"DUR","t":10.75,"v":81},{"s":"DUR","t":10.8,"v":93},{"s":"DUR","t":10.85,"v":93},{"s":"DUR","t":10.9,"v":96},{"s":"DUR","t":11.3,"v":96},{"s":"DUR","t":11.35,"v":93},{"s":"DUR","t":11.45,"v":67},{"s":"DUR","t":11.5,"v":88},{"s":"DUR","t":11.75,"v":88},{"s":"DUR","t":11.8,"v":67},{"s":"DUR","t":11.85,"v":84},{"s":"DUR","t":11.9,"v":75.6},{"s":"DUR","t":11.95,"v":84},{"s":"DUR","t":12.05,"v":84},{"s":"DUR","t":12.1,"v":65},{"s":"DUR","t":12.15,"v":81},{"s":"DUR","t":12.35,"v":62.5},{"s":"DUR","t":12.4,"v":81},{"s":"DUR","t":12.5,"v":81},{"s":"DUR","t":12.55,"v":76},{"s":"DUR","t":12.6,"v":84},{"s":"DUR","t":12.65,"v":75.5},{"s":"DUR","t":12.7,"v":88},{"s":"DUR","t":12.95,"v":88},{"s":"DUR","t":13.0,"v":72.7},{"s":"DUR","t":13.02,"v":45},{"s":"DUR","t":13.05,"v":88},{"s":"DUR","t":13.15,"v":88},{"s":"DUR","t":13.2,"v":93},{"s":"DUR","t":13.28,"v":96},{"s":"DUR","t":13.3,"v":45},{"s":"DUR","t":13.33,"v":96},{"s":"DUR","t":13.65,"v":96},{"s":"DUR","t":13.7,"v":45},{"s":"DUR","t":13.73,"v":96},{"s":"DUR","t":13.85,"v":96},{"s":"DUR","t":13.9,"v":76},{"s":"DUR","t":14.05,"v":76},{"s":"DUR","t":14.07,"v":45},{"s":"DUR","t":14.1,"v":96},{"s":"DUR","t":14.12,"v":76},{"s":"DUR","t":14.45,"v":76},{"s":"DUR","t":14.47,"v":45},{"s":"DUR","t":14.5,"v":76},{"s":"DUR","t":14.75,"v":76},{"s":"DUR","t":14.77,"v":45},{"s":"DUR","t":14.8,"v":76},{"s":"DUR","t":15.1,"v":77},{"s":"DUR","t":15.12,"v":45},{"s":"DUR","t":15.15,"v":77},{"s":"DUR","t":15.35,"v":76},{"s":"DUR","t":15.37,"v":45},{"s":"DUR","t":15.4,"v":75},{"s":"DUR","t":15.74,"v":76},{"s":"DUR","t":15.76,"v":45},{"s":"DUR","t":15.79,"v":76},{"s":"DUR","t":16.14,"v":76},{"s":"DUR","t":16.16,"v":45},{"s":"DUR","t":16.19,"v":76},{"s":"DUR","t":16.64,"v":77},{"s":"DUR","t":16.66,"v":45},{"s":"DUR","t":16.69,"v":77},{"s":"DUR","t":16.84,"v":77},{"s":"DUR","t":16.86,"v":45},{"s":"DUR","t":16.89,"v":77},{"s":"DUR","t":17.23,"v":76},{"s":"DUR","t":17.25,"v":45},{"s":"DUR","t":17.28,"v":76},{"s":"DUR","t":17.53,"v":77},{"s":"DUR","t":17.55,"v":45},{"s":"DUR","t":17.58,"v":75},{"s":"DUR","t":17.93,"v":75},{"s":"DUR","t":17.95,"v":45},{"s":"DUR","t":17.98,"v":75},{"s":"DUR","t":18.13,"v":75},{"s":"DUR","t":18.15,"v":45},{"s":"DUR","t":18.18,"v":75},{"s":"DUR","t":18.53,"v":75},{"s":"DUR","t":18.55,"v":45},{"s":"DUR","t":18.58,"v":75},{"s":"DUR","t":19.02,"v":75},{"s":"DUR","t":19.04,"v":45},{"s":"DUR","t":19.07,"v":64},{"s":"DUR","t":19.6,"v":64},{"s":"DUR","t":19.64,"v":95},{"s":"DUR","t":19.66,"v":45},{"s":"DUR","t":19.7,"v":59},{"s":"DUR","t":20.1,"v":59},{"s":"DUR","t":20.12,"v":95},{"s":"DUR","t":20.14,"v":45},
{"s":"FUE","t":0.2,"v":62},{"s":"FUE","t":0.4,"v":62},{"s":"FUE","t":0.6,"v":62},{"s":"FUE","t":0.8,"v":62},{"s":"FUE","t":1.0,"v":62},{"s":"FUE","t":1.2,"v":62},{"s":"FUE","t":1.4,"v":62},{"s":"FUE","t":1.6,"v":62},{"s":"FUE","t":1.8,"v":62},{"s":"FUE","t":2.0,"v":62},{"s":"FUE","t":2.2,"v":62},{"s":"FUE","t":2.4,"v":62},{"s":"FUE","t":2.6,"v":64},{"s":"FUE","t":2.8,"v":65},{"s":"FUE","t":3.0,"v":67},{"s":"FUE","t":3.2,"v":69},{"s":"FUE","t":3.4,"v":69},{"s":"FUE","t":3.6,"v":70},{"s":"FUE","t":3.8,"v":69},{"s":"FUE","t":4.0,"v":69},{"s":"FUE","t":4.2,"v":69},{"s":"FUE","t":4.4,"v":69},{"s":"FUE","t":4.6,"v":69},{"s":"FUE","t":4.8,"v":70},{"s":"FUE","t":5.0,"v":68.5},{"s":"FUE","t":5.1,"v":67},{"s":"FUE","t":5.2,"v":66},{"s":"FUE","t":5.4,"v":65.5},{"s":"FUE","t":5.6,"v":64.5},{"s":"FUE","t":5.8,"v":64},{"s":"FUE","t":6.0,"v":64},{"s":"FUE","t":6.2,"v":63},{"s":"FUE","t":6.4,"v":62.5},{"s":"FUE","t":6.6,"v":62},{"s":"FUE","t":6.8,"v":60.5},{"s":"FUE","t":7.0,"v":60},{"s":"FUE","t":7.2,"v":60},{"s":"FUE","t":7.4,"v":60},{"s":"FUE","t":7.6,"v":59.5},{"s":"FUE","t":7.8,"v":58.5},{"s":"FUE","t":8.0,"v":58},{"s":"FUE","t":8.1,"v":60},{"s":"FUE","t":8.2,"v":63},{"s":"FUE","t":8.3,"v":66},{"s":"FUE","t":8.4,"v":66},{"s":"FUE","t":8.6,"v":64},{"s":"FUE","t":8.8,"v":64},{"s":"FUE","t":9.0,"v":62},{"s":"FUE","t":9.2,"v":62},{"s":"FUE","t":9.4,"v":62},{"s":"FUE","t":9.6,"v":62},{"s":"FUE","t":9.8,"v":61},{"s":"FUE","t":10.0,"v":60},{"s":"FUE","t":10.2,"v":60},{"s":"FUE","t":10.4,"v":58},{"s":"FUE","t":10.6,"v":57.5},{"s":"FUE","t":10.8,"v":57},{"s":"FUE","t":11.0,"v":56.5},{"s":"FUE","t":11.1,"v":54},{"s":"FUE","t":11.2,"v":52},{"s":"FUE","t":11.4,"v":51.7},{"s":"FUE","t":11.6,"v":51.7},{"s":"FUE","t":11.8,"v":51.7},{"s":"FUE","t":12.0,"v":52},{"s":"FUE","t":12.2,"v":52.5},{"s":"FUE","t":12.3,"v":55},{"s":"FUE","t":12.4,"v":58},{"s":"FUE","t":12.5,"v":61},{"s":"FUE","t":12.6,"v":63},{"s":"FUE","t":12.8,"v":64},{"s":"FUE","t":13.0,"v":66},{"s":"FUE","t":13.2,"v":64},{"s":"FUE","t":13.4,"v":63.5},{"s":"FUE","t":13.6,"v":64},{"s":"FUE","t":13.8,"v":64},{"s":"FUE","t":14.0,"v":64},{"s":"FUE","t":14.2,"v":66},{"s":"FUE","t":14.4,"v":64},{"s":"FUE","t":14.6,"v":64},{"s":"FUE","t":14.8,"v":64},{"s":"FUE","t":15.0,"v":63.5},{"s":"FUE","t":15.2,"v":64},{"s":"FUE","t":15.4,"v":65},{"s":"FUE","t":15.6,"v":63.5},{"s":"FUE","t":15.8,"v":63},{"s":"FUE","t":16.0,"v":60.5},{"s":"FUE","t":16.2,"v":60},{"s":"FUE","t":16.4,"v":60},{"s":"FUE","t":16.6,"v":60},{"s":"FUE","t":16.8,"v":60},{"s":"FUE","t":17.0,"v":60},{"s":"FUE","t":17.2,"v":59.5},{"s":"FUE","t":17.4,"v":60},{"s":"FUE","t":17.6,"v":62.5},{"s":"FUE","t":17.8,"v":63},{"s":"FUE","t":18.0,"v":63},{"s":"FUE","t":18.2,"v":63},{"s":"FUE","t":18.4,"v":61},{"s":"FUE","t":18.6,"v":60},{"s":"FUE","t":18.8,"v":60},{"s":"FUE","t":19.0,"v":59.5},{"s":"FUE","t":19.2,"v":58.5},{"s":"FUE","t":19.4,"v":58},{"s":"FUE","t":19.6,"v":58.5},{"s":"FUE","t":19.8,"v":60},{"s":"FUE","t":20.0,"v":62.5},{"s":"FUE","t":20.1,"v":60},{"s":"FUE","t":20.2,"v":67},{"s":"FUE","t":20.4,"v":67},{"s":"FUE","t":20.6,"v":71},{"s":"FUE","t":20.8,"v":76},{"s":"FUE","t":21.0,"v":76},{"s":"FUE","t":21.2,"v":76},{"s":"FUE","t":21.3,"v":74},{"s":"FUE","t":21.4,"v":72},{"s":"FUE","t":21.5,"v":71.5},{"s":"FUE","t":21.6,"v":71.5},{"s":"FUE","t":21.8,"v":71.5},{"s":"FUE","t":21.9,"v":70},{"s":"FUE","t":22.0,"v":68},{"s":"FUE","t":22.2,"v":67.5},{"s":"FUE","t":22.4,"v":67.5},{"s":"FUE","t":22.6,"v":67.5},{"s":"FUE","t":22.8,"v":67.5},{"s":"FUE","t":23.0,"v":67.5},{"s":"FUE","t":23.1,"v":67},{"s":"FUE","t":23.2,"v":66},{"s":"FUE","t":23.3,"v":64},{"s":"FUE","t":23.4,"v":62},{"s":"FUE","t":23.5,"v":60},{"s":"FUE","t":23.6,"v":58},{"s":"FUE","t":23.7,"v":56},{"s":"FUE","t":23.8,"v":55},{"s":"FUE","t":23.9,"v":55},{"s":"FUE","t":24.0,"v":54},{"s":"FUE","t":24.1,"v":52.5}
]},
"vconcat":[
{"title":"Pitches sung by four subjects and ground truth","width":495,"height":208,
"resolve":{"axis":{"x":"independent","y":"independent"}},
"layer":[
{"data":{"name":"top"},"transform":[{"filter":"datum.s == 'Subj.1'"}],
"mark":{"type":"point","filled":false,"size":1600,"strokeWidth":1.2,"opacity":1,"clip":true},
"encoding":{
"x":{"field":"t","type":"quantitative","scale":{"domain":[0.18,29.73],"nice":false,"zero":false},"axis":{"orient":"bottom","values":[5,10,15,20,25],"title":"time (s)"}},
"y":{"field":"v","type":"quantitative","scale":{"domain":[38.3,100.7],"nice":false,"zero":false},"axis":{"orient":"left","values":[40,50,60,70,80,90,100],"title":"MIDI note"}},
"color":{"field":"s","type":"nominal","scale":{"domain":["Subj.1","Subj.2","Subj.3","Subj.4","Mel."],"range":["#333333","#666666","#999999","#cccccc","#000000"]},
"legend":{"orient":"none","legendX":425,"legendY":8,"title":null,"padding":6,"strokeColor":"black","fillColor":"white","symbolSize":1296,"symbolStrokeWidth":1,"labelFontSize":15,"labelFontWeight":"bold","labelColor":"black","labelOffset":2,"rowPadding":5,"clipHeight":16}},
"shape":{"field":"s","type":"nominal","scale":{"domain":["Subj.1","Subj.2","Subj.3","Subj.4","Mel."],"range":["M-0.17,0H0.17M0,-0.17V0.17","M-1,0H-0.17M0.17,0H1M-0.17,0A0.17,0.17 0 1,0 0.17,0A0.17,0.17 0 1,0 -0.17,0","M-1,0H-0.7M-0.55,0H-0.5M-0.35,0H-0.05M0.1,0H0.15M0.3,0H0.6M0.75,0H0.8","M-0.15,-0.15L0.15,0.15M-0.15,0.15L0.15,-0.15","M-0.13,-0.13L0.13,0.13M-0.13,0.13L0.13,-0.13"]},
"legend":{"orient":"none","legendX":425,"legendY":8,"title":null,"padding":6,"strokeColor":"black","fillColor":"white","symbolSize":1296,"symbolStrokeWidth":1,"labelFontSize":15,"labelFontWeight":"bold","labelColor":"black","labelOffset":2,"rowPadding":5,"clipHeight":16}}}},
{"data":{"name":"top"},"transform":[{"filter":"datum.s == 'Subj.2'"}],
"mark":{"type":"line","color":"#5a5a5a","strokeWidth":1,"clip":true},
"encoding":{"x":{"field":"t","type":"quantitative","axis":{"orient":"top","labels":false,"title":null,"values":[5,10,15,20,25]}},
"y":{"field":"v","type":"quantitative","axis":{"orient":"right","labels":false,"title":null,"values":[40,50,60,70,80,90,100]}}}},
{"data":{"name":"top"},"transform":[{"filter":"datum.s == 'Subj.2'"}],
"mark":{"type":"point","shape":"circle","filled":true,"fill":"#6e6e6e","stroke":"#555555","strokeWidth":0.8,"size":80,"opacity":1,"clip":true},
"encoding":{"x":{"field":"t","type":"quantitative","axis":null},"y":{"field":"v","type":"quantitative","axis":null}}},
{"data":{"name":"top"},"transform":[{"filter":"datum.s == 'Subj.3'"}],
"mark":{"type":"line","color":"#9a9a9a","strokeWidth":1,"strokeDash":[6,3,1.5,3],"clip":true},
"encoding":{"x":{"field":"t","type":"quantitative","axis":null},"y":{"field":"v","type":"quantitative","axis":null}}},
{"data":{"name":"top"},"transform":[{"filter":"datum.s == 'Subj.4'"}],
"mark":{"type":"point","filled":false,"size":2400,"strokeWidth":2,"opacity":1,"clip":true},
"encoding":{"x":{"field":"t","type":"quantitative","axis":null},"y":{"field":"v","type":"quantitative","axis":null},
"color":{"field":"s","type":"nominal"},"shape":{"field":"s","type":"nominal"}}},
{"data":{"name":"mel"},
"mark":{"type":"point","filled":false,"size":2500,"strokeWidth":2,"opacity":1,"clip":true},
"encoding":{"x":{"field":"t","type":"quantitative","axis":null},"y":{"field":"v","type":"quantitative","axis":null},
"color":{"field":"s","type":"nominal"},"shape":{"field":"s","type":"nominal"}}}
]},
{"title":"Pitches estimated by melody extraction algorithms and ground truth","width":495,"height":206,
"resolve":{"axis":{"x":"independent","y":"independent"}},
"layer":[
{"data":{"name":"bot"},"transform":[{"filter":"datum.s == 'DRE'"}],
"mark":{"type":"point","filled":false,"size":1600,"strokeWidth":1.3,"opacity":1,"clip":true},
"encoding":{
"x":{"field":"t","type":"quantitative","scale":{"domain":[0.18,29.73],"nice":false,"zero":false},"axis":{"orient":"bottom","values":[5,10,15,20,25],"title":"time (s)"}},
"y":{"field":"v","type":"quantitative","scale":{"domain":[51.2,98.4],"nice":false,"zero":false},"axis":{"orient":"left","values":[60,70,80,90],"title":"MIDI note"}},
"color":{"field":"s","type":"nominal","scale":{"domain":["DRE","SAL","DUR","FUE","Mel."],"range":["#333333","#666666","#999999","#cccccc","#000000"]},
"legend":{"orient":"none","legendX":433,"legendY":6,"title":null,"padding":6,"strokeColor":"black","fillColor":"white","symbolSize":1296,"symbolStrokeWidth":1,"labelFontSize":15,"labelFontWeight":"bold","labelColor":"black","labelOffset":2,"rowPadding":5,"clipHeight":16}},
"shape":{"field":"s","type":"nominal","scale":{"domain":["DRE","SAL","DUR","FUE","Mel."],"range":["M-0.17,0H0.17M0,-0.17V0.17","M-0.15,0A0.15,0.15 0 1,0 0.15,0A0.15,0.15 0 1,0 -0.15,0","M-1,0H-0.6M-0.2,0H0.2M0.6,0H1","M-0.15,-0.15L0.15,0.15M-0.15,0.15L0.15,-0.15","M-0.13,-0.13L0.13,0.13M-0.13,0.13L0.13,-0.13"]},
"legend":{"orient":"none","legendX":433,"legendY":6,"title":null,"padding":6,"strokeColor":"black","fillColor":"white","symbolSize":1296,"symbolStrokeWidth":1,"labelFontSize":15,"labelFontWeight":"bold","labelColor":"black","labelOffset":2,"rowPadding":5,"clipHeight":16}}}},
{"data":{"name":"bot"},"transform":[{"filter":"datum.s == 'SAL'"}],
"mark":{"type":"point","shape":"circle","filled":true,"fill":"#6e6e6e","stroke":"#555555","strokeWidth":0.8,"size":80,"opacity":1,"clip":true},
"encoding":{"x":{"field":"t","type":"quantitative","axis":{"orient":"top","labels":false,"title":null,"values":[5,10,15,20,25]}},
"y":{"field":"v","type":"quantitative","axis":{"orient":"right","labels":false,"title":null,"values":[60,70,80,90]}}}},
{"data":{"name":"bot"},"transform":[{"filter":"datum.s == 'DUR'"}],
"mark":{"type":"line","color":"#9a9a9a","strokeWidth":1,"strokeDash":[5,3],"clip":true},
"encoding":{"x":{"field":"t","type":"quantitative","axis":null},"y":{"field":"v","type":"quantitative","axis":null}}},
{"data":{"name":"bot"},"transform":[{"filter":"datum.s == 'FUE'"}],
"mark":{"type":"point","filled":false,"size":2000,"strokeWidth":1.8,"opacity":1,"clip":true},
"encoding":{"x":{"field":"t","type":"quantitative","axis":null},"y":{"field":"v","type":"quantitative","axis":null},
"color":{"field":"s","type":"nominal"},"shape":{"field":"s","type":"nominal"}}},
{"data":{"name":"mel"},
"mark":{"type":"point","filled":false,"size":2500,"strokeWidth":2,"opacity":1,"clip":true},
"encoding":{"x":{"field":"t","type":"quantitative","axis":null},"y":{"field":"v","type":"quantitative","axis":null},
"color":{"field":"s","type":"nominal"},"shape":{"field":"s","type":"nominal"}}}
]}
]
}
